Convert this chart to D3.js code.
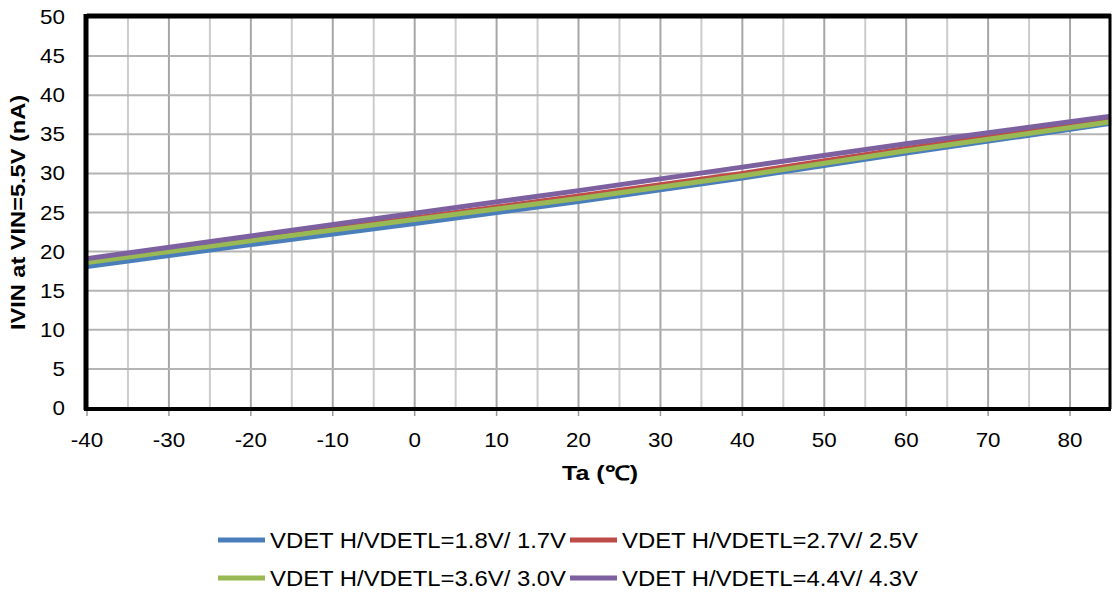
<!DOCTYPE html>
<html>
<head>
<meta charset="utf-8">
<script src="https://cdn.jsdelivr.net/npm/d3@7"></script>
<style>
  body { margin: 0; background: #fff; }
  text { font-family: "Liberation Sans", Arial, sans-serif; }
</style>
</head>
<body>
<svg id="chart" width="1113" height="598"></svg>
<script>
// temperature points (degC)
var temps = [-40, -20, 0, 20, 40, 60, 85]

// IVIN values (nA)
var seriesNames = ["VDET H/VDETL=1.8V/ 1.7V", "VDET H/VDETL=2.7V/ 2.5V", "VDET H/VDETL=3.6V/ 3.0V", "VDET H/VDETL=4.4V/ 4.3V"]
var blueVals   = [18.1, 20.9, 23.6, 26.4, 29.4, 32.6, 36.4]
var redVals    = [18.8, 21.6, 24.3, 27.1, 30.0, 33.2, 36.9]
var greenVals  = [18.6, 21.4, 24.1, 26.8, 29.7, 32.9, 36.6]
var purpleVals = [19.1, 22.0, 24.9, 27.8, 30.8, 33.8, 37.3]
var colors = ["#4a7ebb", "#be4b48", "#98b954", "#7d60a0"]

var xTicks = [-40, -30, -20, -10, 0, 10, 20, 30, 40, 50, 60, 70, 80]
var yTicks = [0, 5, 10, 15, 20, 25, 30, 35, 40, 45, 50]

var svg = d3.select("#chart")

var x = d3.scaleLinear().domain([-40, 85]).range([87, 1111])
var y = d3.scaleLinear().domain([0, 50]).range([408, 17])

// grid - vertical every 5 degC
var vgrid = d3.range(-35, 85, 5)
svg.append("g").selectAll("line")
  .data(vgrid)
  .enter().append("line")
  .attr("x1", function(d){ return x(d) }).attr("x2", function(d){ return x(d) })
  .attr("y1", y(50)).attr("y2", y(0))
  .attr("stroke", function(d){ return d % 10 == 0 ? "#a6a6a6" : "#cccccc" })
  .attr("stroke-width", 2)

svg.append("g").selectAll("line")
  .data(yTicks.slice(1, -1))
  .enter().append("line")
  .attr("x1", x(-40)).attr("x2", x(85))
  .attr("y1", function(d){ return y(d) }).attr("y2", function(d){ return y(d) })
  .attr("stroke", "#b4b4b4")
  .attr("stroke-width", 2)

// series lines, blue first, purple on top
var allVals = [blueVals, redVals, greenVals, purpleVals]
var line = d3.line()
  .x(function(d, i){ return x(temps[i]) })
  .y(function(d){ return y(d) })

svg.append("g").selectAll("path")
  .data(allVals)
  .enter().append("path")
  .attr("d", line)
  .attr("fill", "none")
  .attr("stroke", function(d, i){ return colors[i] })
  .attr("stroke-width", 5)

// frame
svg.append("line").attr("x1", x(-40)).attr("x2", x(85)).attr("y1", 16).attr("y2", 16)
  .attr("stroke", "#000").attr("stroke-width", 5)
svg.append("line").attr("x1", 1110).attr("x2", 1110).attr("y1", 14).attr("y2", 409)
  .attr("stroke", "#000").attr("stroke-width", 3)
svg.append("line").attr("x1", 86).attr("x2", 86).attr("y1", 14).attr("y2", 410)
  .attr("stroke", "#000").attr("stroke-width", 5)
svg.append("line").attr("x1", 84).attr("x2", 1111).attr("y1", 409).attr("y2", 409)
  .attr("stroke", "#000").attr("stroke-width", 4)

// x tick marks
svg.append("g").selectAll("line")
  .data(xTicks)
  .enter().append("line")
  .attr("x1", function(d){ return x(d) }).attr("x2", function(d){ return x(d) })
  .attr("y1", 411).attr("y2", 416)
  .attr("stroke", "#999").attr("stroke-width", 1.5)

// tick labels (the original font is a bit wider, so stretch a little)
svg.append("g").selectAll("text")
  .data(yTicks)
  .enter().append("text")
  .attr("transform", function(d){ return "translate(65," + y(d) + ") scale(1.12,1)" })
  .attr("dy", "0.35em")
  .attr("text-anchor", "end")
  .attr("font-size", 20)
  .attr("fill", "#000")
  .text(function(d){ return d })

svg.append("g").selectAll("text")
  .data(xTicks)
  .enter().append("text")
  .attr("transform", function(d){ return "translate(" + x(d) + ",447) scale(1.12,1)" })
  .attr("text-anchor", "middle")
  .attr("font-size", 20)
  .attr("fill", "#000")
  .text(function(d){ return d })

// axis titles
svg.append("text")
  .attr("x", 562).attr("y", 480)
  .attr("font-size", 20).attr("font-weight", "bold")
  .attr("textLength", 76).attr("lengthAdjust", "spacingAndGlyphs")
  .text("Ta (℃)")

svg.append("text")
  .attr("transform", "translate(25,330) rotate(-90)")
  .attr("font-size", 20).attr("font-weight", "bold")
  .attr("textLength", 235).attr("lengthAdjust", "spacingAndGlyphs")
  .text("IVIN at VIN=5.5V (nA)")

// legend 2x2
var legendPos = [[218, 540], [570, 540], [218, 578], [570, 578]]
var legend = svg.append("g").selectAll("g")
  .data(seriesNames)
  .enter().append("g")
  .attr("transform", function(d, i){ return "translate(" + legendPos[i][0] + "," + legendPos[i][1] + ")" })

legend.append("line")
  .attr("x1", 0).attr("x2", 47).attr("y1", 0).attr("y2", 0)
  .attr("stroke", function(d, i){ return colors[i] })
  .attr("stroke-width", 5)

legend.append("text")
  .attr("x", 52).attr("y", 0).attr("dy", "0.36em")
  .attr("font-size", 22)
  .attr("textLength", 296).attr("lengthAdjust", "spacingAndGlyphs")
  .text(function(d){ return d })
</script>
</body>
</html>
